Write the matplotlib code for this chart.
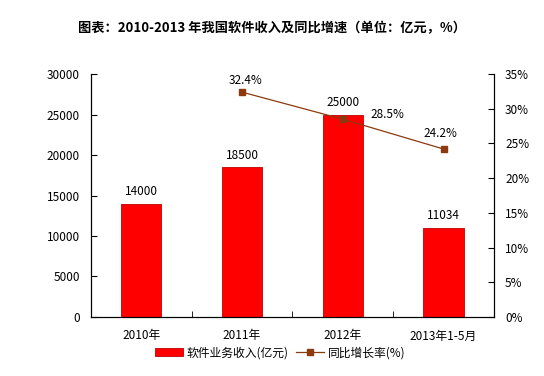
import matplotlib
matplotlib.use("Agg")
import matplotlib.pyplot as plt
import numpy as np

plt.rcParams['font.family'] = ['Noto Sans CJK SC', 'DejaVu Sans']

# Data
categories = ["2010年", "2011年", "2012年", "2013年1-5月"]
revenue = [14000, 18500, 25000, 11034]
growth = [None, 32.4, 28.5, 24.2]
growth_labels = ["", "32.4%", "28.5%", "24.2%"]
title = "图表：2010-2013 年我国软件收入及同比增速（单位：亿元，%）"

fig = plt.figure(figsize=(5.44, 3.76), dpi=100)
ax = fig.add_axes([0.167, 0.157, 0.741, 0.646])
x = np.arange(len(categories))

bars = ax.bar(x, revenue, width=0.4, color="#ff0000", edgecolor="#c00000", linewidth=0.6,
              label="软件业务收入(亿元)", zorder=2)
for xi, v in zip(x, revenue):
    ax.text(xi, v + 700, str(v), ha="center", va="bottom", fontsize=8.5)

ax.set_xlim(-0.5, len(categories) - 0.5)
ax.set_ylim(0, 30000)
ax.set_yticks(np.arange(0, 30001, 5000))
ax.set_xticks(x)
ax.set_xticklabels(categories, fontsize=8.5)
ax.set_xticks(np.arange(0.5, len(categories) - 1, 1), minor=True)
ax.tick_params(axis="x", which="major", length=0, pad=9)
ax.tick_params(axis="x", which="minor", length=4, direction="in")
ax.tick_params(axis="y", direction="in", length=4, labelsize=8.5, pad=8)
ax.spines["top"].set_visible(False)

ax2 = ax.twinx()
gx = [xi for xi, g in zip(x, growth) if g is not None]
gy = [g for g in growth if g is not None]
line, = ax2.plot(gx, gy, color="#8b3a0f", linewidth=0.9, marker="s", markersize=5,
                 markerfacecolor="#8b3a0f", markeredgecolor="#8b3a0f", label="同比增长率(%)", zorder=3)
ax2.set_ylim(0, 35)
ax2.set_yticks(np.arange(0, 36, 5))
ax2.set_yticklabels([f"{t}%" for t in range(0, 36, 5)])
ax2.tick_params(axis="y", direction="in", length=4, labelsize=8.5, pad=8)
ax2.spines["top"].set_visible(False)

# label offsets (category units, percent units) relative to each point
offsets = [(0, 0), (0.03, 0.8), (0.44, -0.2), (-0.03, 1.3)]
for xi, g, lab, (dx, dy) in zip(x, growth, growth_labels, offsets):
    if g is None:
        continue
    ax2.text(xi + dx, g + dy, lab, ha="center", va="bottom", fontsize=8.5)

fig.text(0.5, 0.925, title, ha="center", va="center", fontsize=9.5, fontweight="bold")

fig.legend([bars, line], ["软件业务收入(亿元)", "同比增长率(%)"], loc="center",
           bbox_to_anchor=(0.515, 0.062), ncol=2, frameon=False, fontsize=8.5,
           handlelength=2.4, columnspacing=0.6, handletextpad=0.3)

fig.savefig("out.png", dpi=100)
